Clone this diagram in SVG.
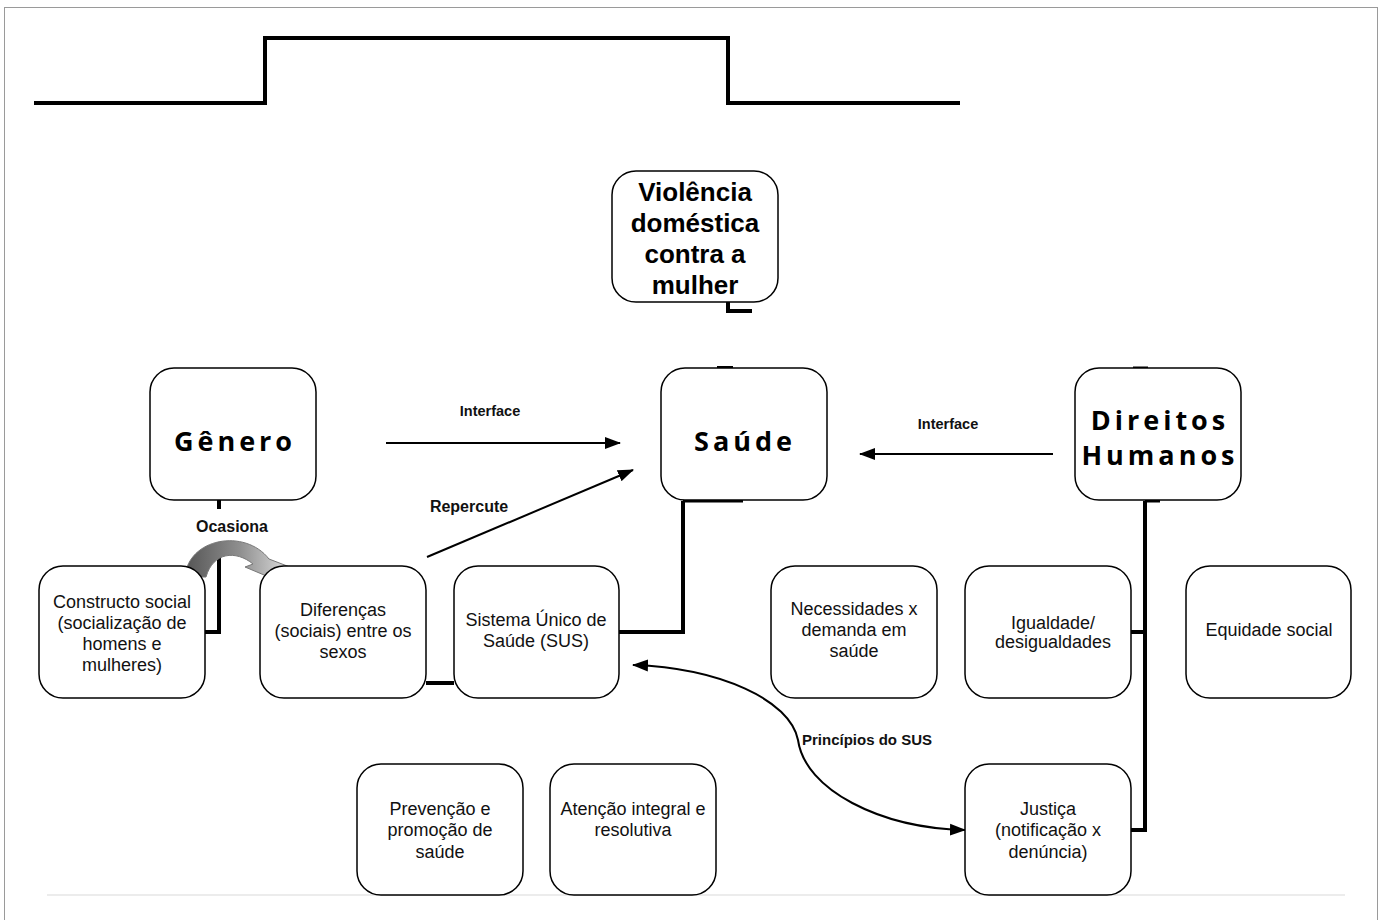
<svg xmlns="http://www.w3.org/2000/svg" width="1382" height="920" viewBox="0 0 1382 920">
<style>
.box{fill:#fff;stroke:#000;stroke-width:1.5}
.t{font-family:"Liberation Sans",Arial,sans-serif;font-size:18px;fill:#111;text-anchor:middle}
.big{font-family:"Open Sans","DejaVu Sans",sans-serif;font-weight:bold;font-size:27px;letter-spacing:4px;fill:#000;text-anchor:middle}
.vio{font-family:"Liberation Sans",Arial,sans-serif;font-weight:bold;font-size:26px;fill:#000;text-anchor:middle}
.lbl{font-family:"Liberation Sans",Arial,sans-serif;font-weight:bold;fill:#111}
.thick{stroke:#000;stroke-width:4;fill:none}
.thin{stroke:#000;stroke-width:2;fill:none}
</style>
<defs>
<marker id="ah" markerUnits="userSpaceOnUse" markerWidth="16" markerHeight="14" refX="15" refY="7" orient="auto-start-reverse" viewBox="0 0 16 14">
<path d="M0,1 L16,7 L0,13 Z" fill="#000"/>
</marker>
<linearGradient id="cg" x1="0" y1="0" x2="1" y2="0">
<stop offset="0" stop-color="#555"/>
<stop offset="0.5" stop-color="#8f8f8f"/>
<stop offset="1" stop-color="#e6e6e6"/>
</linearGradient>
</defs>
<rect x="4.5" y="7.5" width="1373" height="930" fill="none" stroke="#9a9a9a" stroke-width="1"/>
<line x1="47" y1="895" x2="1345" y2="895" stroke="#e6e6e6" stroke-width="1.5"/>
<path d="M34,103 H265 V38 H728 V103 H960" fill="none" stroke="#000" stroke-width="4"/>

<g id="connectors">
<path class="thick" d="M728,302 V311 H752"/>
<line class="thick" x1="717" y1="368" x2="733" y2="368" stroke-width="3"/>
<path class="thick" d="M683,501 V632 H619"/>
<line x1="683" y1="501" x2="743" y2="501" stroke="#000" stroke-width="3"/>
<line class="thick" x1="219" y1="500" x2="219" y2="509"/>
<path class="thick" d="M219,557 V632 H205"/>
<line class="thick" x1="426" y1="683" x2="454" y2="683"/>
<line x1="1133" y1="368" x2="1148" y2="368" stroke="#000" stroke-width="3"/>
<line x1="1145" y1="501" x2="1160" y2="501" stroke="#000" stroke-width="3"/>
<path class="thick" d="M1145,501 V830 H1131"/>
<line class="thick" x1="1145" y1="632" x2="1131" y2="632"/>
<line class="thin" x1="386" y1="443" x2="620" y2="443" marker-end="url(#ah)"/>
<line class="thin" x1="427" y1="557" x2="633" y2="470" marker-end="url(#ah)"/>
<line class="thin" x1="1053" y1="454" x2="860" y2="454" marker-end="url(#ah)"/>
<path class="thin" d="M633,665 C720,668 790,700 798,740 C805,790 880,828 965,830" marker-start="url(#ah)" marker-end="url(#ah)"/>
<path d="M185,577 C188,538 245,528 269,559 L295,569 L276,580 L245,567 L253,564 C236,550 213,552 206,577 Z" fill="url(#cg)" stroke="#777" stroke-width="1"/>
<text class="lbl" x="490" y="416" font-size="14.5" text-anchor="middle">Interface</text>
<text class="lbl" x="469" y="512" font-size="16" text-anchor="middle">Repercute</text>
<text class="lbl" x="948" y="429" font-size="14.5" text-anchor="middle">Interface</text>
<text class="lbl" x="232" y="532" font-size="16" text-anchor="middle">Ocasiona</text>
<text class="lbl" x="867" y="745" font-size="15" text-anchor="middle">Princípios do SUS</text>
</g>

<g id="violencia">
<rect class="box" x="612" y="171" width="166" height="131" rx="24"/>
<text class="vio" x="695" y="201">Violência</text>
<text class="vio" x="695" y="232">doméstica</text>
<text class="vio" x="695" y="263">contra a</text>
<text class="vio" x="695" y="294">mulher</text>
</g>
<g id="genero">
<rect class="box" x="150" y="368" width="166" height="132" rx="24"/>
<text class="big" x="235" y="451">Gênero</text>
</g>
<g id="saude">
<rect class="box" x="661" y="368" width="166" height="132" rx="24"/>
<text class="big" x="745" y="451">Saúde</text>
</g>
<g id="direitos">
<rect class="box" x="1075" y="368" width="166" height="132" rx="24"/>
<text class="big" x="1160" y="430" font-size="26">Direitos</text>
<text class="big" x="1160" y="465" font-size="26">Humanos</text>
</g>
<g id="constructo">
<rect class="box" x="39" y="566" width="166" height="132" rx="24"/>
<text class="t" x="122" y="608">Constructo social</text>
<text class="t" x="122" y="629">(socialização de</text>
<text class="t" x="122" y="650">homens e</text>
<text class="t" x="122" y="671">mulheres)</text>
</g>
<g id="diferencas">
<rect class="box" x="260" y="566" width="166" height="132" rx="24"/>
<text class="t" x="343" y="616">Diferenças</text>
<text class="t" x="343" y="637">(sociais) entre os</text>
<text class="t" x="343" y="658">sexos</text>
</g>
<g id="sus">
<rect class="box" x="454" y="566" width="165" height="132" rx="24"/>
<text class="t" x="536" y="626">Sistema Único de</text>
<text class="t" x="536" y="647">Saúde (SUS)</text>
</g>
<g id="necessidades">
<rect class="box" x="771" y="566" width="166" height="132" rx="24"/>
<text class="t" x="854" y="615">Necessidades x</text>
<text class="t" x="854" y="636">demanda em</text>
<text class="t" x="854" y="657">saúde</text>
</g>
<g id="igualdade">
<rect class="box" x="965" y="566" width="166" height="132" rx="24"/>
<text class="t" x="1053" y="629">Igualdade/</text>
<text class="t" x="1053" y="648">desigualdades</text>
</g>
<g id="equidade">
<rect class="box" x="1186" y="566" width="165" height="132" rx="24"/>
<text class="t" x="1269" y="636">Equidade social</text>
</g>
<g id="prevencao">
<rect class="box" x="357" y="764" width="166" height="131" rx="24"/>
<text class="t" x="440" y="815">Prevenção e</text>
<text class="t" x="440" y="836">promoção de</text>
<text class="t" x="440" y="858">saúde</text>
</g>
<g id="atencao">
<rect class="box" x="550" y="764" width="166" height="131" rx="24"/>
<text class="t" x="633" y="815">Atenção integral e</text>
<text class="t" x="633" y="836">resolutiva</text>
</g>
<g id="justica">
<rect class="box" x="965" y="764" width="166" height="131" rx="24"/>
<text class="t" x="1048" y="815">Justiça</text>
<text class="t" x="1048" y="836">(notificação x</text>
<text class="t" x="1048" y="858">denúncia)</text>
</g>
</svg>
